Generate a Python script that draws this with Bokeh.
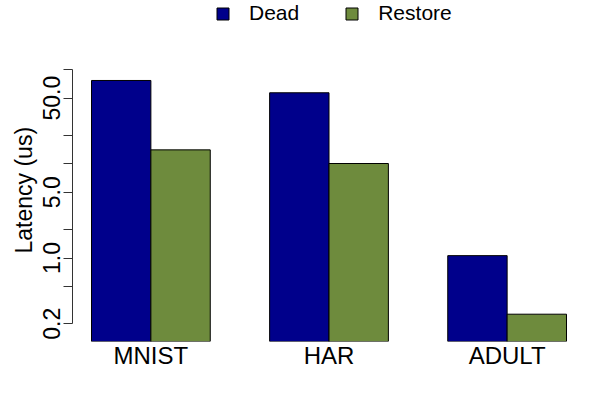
import math
from bokeh.plotting import figure
from bokeh.models import FactorRange, FixedTicker, Legend, LegendItem, ColumnDataSource
from bokeh.transform import dodge
from bokeh.embed import file_html
from bokeh.resources import INLINE

# ---- data ----
groups = ["MNIST", "HAR", "ADULT"]
series = ["Dead", "Restore"]
dead = [77.0, 57.0, 1.06]
restore = [14.1, 10.1, 0.253]
y_ticks = [0.2, 0.5, 1, 2, 5, 10, 20, 50, 100]
y_tick_labels = {0.2: "0.2", 0.5: "", 1: "1.0", 2: "", 5: "5.0", 10: "", 20: "", 50: "50.0", 100: ""}
colors = ["#00008B", "#6E8B3D"]
y_lo, y_hi = 0.1297, 545.0

FONT = "Liberation Sans"
BAR_W = 1.0 / 3.0
W, H = 600, 400
TOP, BOTTOM, LEFT, RIGHT = 0, 59, 72, 15
FRAME_H = H - TOP - BOTTOM

x_range = FactorRange(*groups, range_padding=-0.04)

p = figure(width=W, height=H,
           x_range=x_range,
           y_axis_type="log", y_range=(y_lo, y_hi),
           output_backend="svg", toolbar_location=None,
           title="Latency (us)", title_location="left",
           min_border_left=LEFT, min_border_right=RIGHT,
           min_border_top=TOP, min_border_bottom=BOTTOM)

src = ColumnDataSource(dict(x=groups, dead=dead, restore=restore))
r1 = p.vbar(x=dodge("x", -BAR_W / 2, range=x_range), top="dead", bottom=y_lo, width=BAR_W,
            source=src, fill_color=colors[0], line_color="black", line_width=1)
r2 = p.vbar(x=dodge("x", BAR_W / 2, range=x_range), top="restore", bottom=y_lo, width=BAR_W,
            source=src, fill_color=colors[1], line_color="black", line_width=1)

p.xgrid.visible = False
p.ygrid.visible = False
p.outline_line_color = None

# y label as a left-side title, positioned from the bottom of the frame
p.title.align = "left"
p.title.offset = 88
p.title.standoff = 8
p.title.text_font = FONT
p.title.text_font_size = "23px"
p.title.text_font_style = "normal"
p.title.text_color = "black"

# x axis
xa = p.xaxis[0]
xa.axis_line_color = None
xa.major_tick_line_color = None
xa.major_tick_out = 0
xa.major_tick_in = 0
xa.major_label_standoff = 0
xa.major_label_text_font_size = "24px"
xa.major_label_text_font = FONT
xa.major_label_text_color = "black"

# y axis
ya = p.yaxis[0]
ya.ticker = FixedTicker(ticks=y_ticks)
ya.major_label_overrides = y_tick_labels
ya.bounds = (min(y_ticks), max(y_ticks))
ya.major_label_orientation = "parallel"
ya.major_tick_out = 9
ya.major_tick_in = 0
ya.minor_tick_line_color = None
ya.axis_line_color = "#333333"
ya.major_tick_line_color = "#333333"
ya.major_label_text_font_size = "23px"
ya.major_label_text_font = FONT
ya.major_label_text_color = "black"
ya.major_label_standoff = 3

legend = Legend(items=[LegendItem(label=series[0], renderers=[r1]),
                       LegendItem(label=series[1], renderers=[r2])],
                orientation="horizontal", location=(143, FRAME_H - 25),
                border_line_color=None, background_fill_alpha=0,
                label_text_font_size="21px", label_text_font=FONT,
                label_text_color="black",
                glyph_width=15, glyph_height=15, spacing=45, label_standoff=19,
                padding=0, margin=0)
p.add_layout(legend)

open("out.html", "w").write(file_html(p, INLINE))
